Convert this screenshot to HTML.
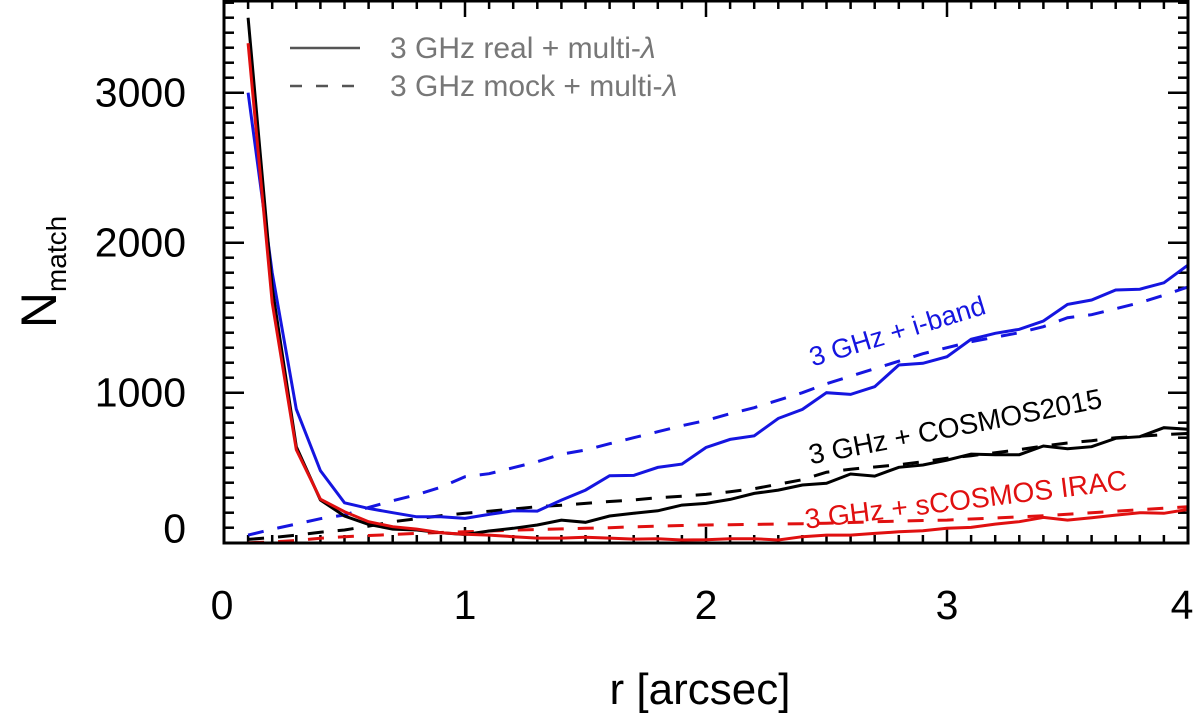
<!DOCTYPE html>
<html><head><meta charset="utf-8">
<style>
html,body{margin:0;padding:0;background:#fff;}
svg{display:block;font-family:"Liberation Sans",sans-serif;}
</style></head>
<body>
<svg id="chart" width="1200" height="722" viewBox="0 0 1200 722" xmlns="http://www.w3.org/2000/svg">
<g id="ticks"></g>
<g id="series"></g>
<rect x="224" y="1" width="964" height="542" fill="none" stroke="#000" stroke-width="3"/>
<g id="labels" font-size="41" fill="#000"></g>
<text x="700" y="704" font-size="44" text-anchor="middle">r [arcsec]</text>
<text transform="translate(56,272) rotate(-90)" font-size="50" text-anchor="middle">N<tspan font-size="28" dy="10">match</tspan></text>
<g>
<line x1="290" y1="48" x2="360" y2="48" stroke="#555" stroke-width="2.5"/>
<text x="390" y="58" font-size="30" fill="#777">3 GHz real + multi-<tspan font-style="italic">λ</tspan></text>
<line x1="290" y1="86" x2="362" y2="86" stroke="#555" stroke-width="2.5" stroke-dasharray="12,14"/>
<text x="390" y="96" font-size="30" fill="#777">3 GHz mock + multi-<tspan font-style="italic">λ</tspan></text>
</g>
<text transform="translate(900,340) rotate(-17)" font-size="27" fill="#1515e0" text-anchor="middle">3 GHz + i-band</text>
<text transform="translate(957,436) rotate(-11)" font-size="28" fill="#000" text-anchor="middle">3 GHz + COSMOS2015</text>
<text transform="translate(967,509) rotate(-7)" font-size="28" fill="#e01010" text-anchor="middle">3 GHz + sCOSMOS IRAC</text>
</svg>
<script>
const rValues = [0.1,0.2,0.3,0.4,0.5,0.6,0.7,0.8,0.9,1.0,1.1,1.2,1.3,1.4,1.5,1.6,1.7,1.8,1.9,2.0,2.1,2.2,2.3,2.4,2.5,2.6,2.7,2.8,2.9,3.0,3.1,3.2,3.3,3.4,3.5,3.6,3.7,3.8,3.9,4.0];
const blackReal = [3500,1700,640,285,178,122,91,85,67,55,78,96,118,151,136,178,196,213,251,262,289,329,351,385,396,458,444,503,518,551,591,587,587,645,627,640,696,707,767,756];
const redReal = [3330,1600,620,290,207,140,107,91,67,56,51,40,31,31,36,31,24,27,18,20,27,27,18,40,51,51,62,73,80,96,102,124,140,169,151,167,184,200,196,222];
const blueReal = [3000,1800,890,480,266,229,200,173,173,162,189,213,211,284,351,447,449,502,524,635,689,713,829,889,1000,989,1040,1185,1196,1240,1356,1396,1423,1478,1589,1618,1685,1690,1733,1851];
const blueMock = [51,90,125,160,185,235,280,320,370,440,460,500,540,590,618,660,700,740,780,815,860,900,950,1000,1060,1110,1160,1210,1260,1300,1340,1370,1400,1440,1500,1520,1560,1600,1650,1705];
const blackMock = [22,35,50,70,85,110,140,160,180,196,210,225,240,250,262,275,285,300,310,322,340,360,390,420,470,490,505,520,540,563,580,600,620,645,665,680,700,710,720,729];
const redMock = [0,5,15,30,40,48,55,62,68,73,78,84,88,92,96,100,106,110,115,118,120,122,125,127,130,135,140,144,148,151,158,165,172,180,190,200,210,220,230,240];
const xTicks = [0,1,2,3,4];
const yTicks = [0,1000,2000,3000];

const X0=224, X1=1188, Y0=542.7, YPER=0.15;
function xs(r){return X0+(X1-X0)*r/4;}
function ys(v){return Y0-v*YPER;}
const NS="http://www.w3.org/2000/svg";
const ticks=document.getElementById('ticks');
function ln(g,x1,y1,x2,y2,w){const l=document.createElementNS(NS,'line');l.setAttribute('x1',x1);l.setAttribute('y1',y1);l.setAttribute('x2',x2);l.setAttribute('y2',y2);l.setAttribute('stroke','#000');l.setAttribute('stroke-width',w);g.appendChild(l);return l;}
for(let i=0;i<=40;i++){const x=xs(i/10);const len=(i%10===0)?16:8;
 ln(ticks,x,543,x,543-len,2.5);ln(ticks,x,1,x,1+len,2.5);}
for(let v=0;v<=3600;v+=100){const y=ys(v);const len=(v%1000===0)?20:10;
 ln(ticks,224,y,224+len,y,2.5);ln(ticks,1188,y,1188-len,y,2.5);}
const labels=document.getElementById('labels');
xTicks.forEach(t=>{const e=document.createElementNS(NS,'text');


e.setAttribute('x',xs(t)-(t===0?2:t===4?6:0));e.setAttribute('y',619);e.setAttribute('text-anchor','middle');e.textContent=t;labels.appendChild(e);});
yTicks.forEach(t=>{const e=document.createElementNS(NS,'text');


e.setAttribute('x',186);e.setAttribute('y',ys(t)+(t===0?0:14));e.setAttribute('text-anchor','end');e.textContent=t;labels.appendChild(e);});
const series=document.getElementById('series');
function draw(vals,color,dash,name){const p=document.createElementNS(NS,'polyline');
p.setAttribute('points',vals.map((v,i)=>xs(rValues[i]).toFixed(1)+','+ys(v).toFixed(1)).join(' '));
p.setAttribute('fill','none');p.setAttribute('stroke',color);p.setAttribute('stroke-width',3);
if(dash)p.setAttribute('stroke-dasharray','16,14');


series.appendChild(p);}
draw(blueMock,'#1515e0',true,'line-iband-mock');
draw(blackMock,'#000',true,'line-cosmos2015-mock');
draw(redMock,'#e01010',true,'line-irac-mock');
draw(blueReal,'#1515e0',false,'line-iband-real');
draw(blackReal,'#000',false,'line-cosmos2015-real');
draw(redReal,'#e01010',false,'line-irac-real');
</script>
</body></html>
